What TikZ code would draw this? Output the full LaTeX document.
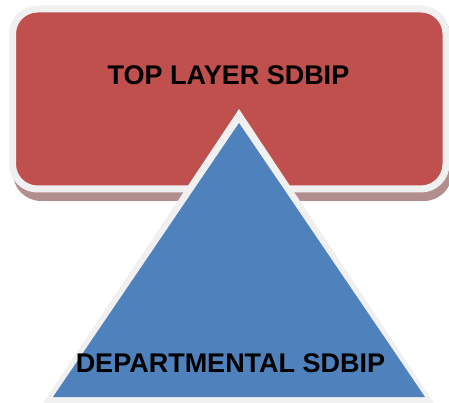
\documentclass[tikz,border=0pt]{standalone}
\usepackage{fontspec}
\setmainfont{Liberation Sans}
\definecolor{boxred}{HTML}{C0504D}
\definecolor{triblue}{HTML}{4F81BD}
\definecolor{rimgray}{HTML}{F0F0F0}
\definecolor{shadowred}{HTML}{B38E8F}
\begin{document}
\begin{tikzpicture}[x=1pt,y=-1pt,
  lbl/.style={anchor=base,font=\fontsize{27}{30}\selectfont\bfseries,text=black,inner sep=0pt}]
\useasboundingbox (0,0) rectangle (449,403);
% shadow of the box
\fill[shadowred,rounded corners=28] (13,12) rectangle (452,201);
% top box
\draw[rimgray,line width=7,fill=boxred,rounded corners=25] (12.5,9) rectangle (446,189);
% triangle
\fill[rimgray] (239,109) -- (436,406) -- (41,406) -- cycle;
\fill[triblue] (239,123) -- (425,397) -- (53,397) -- cycle;
\node[lbl] (top) at (228.5,85) {TOP LAYER SDBIP};
\node[lbl] (dept) at (230.5,372) {DEPARTMENTAL SDBIP};
\end{tikzpicture}
\end{document}
